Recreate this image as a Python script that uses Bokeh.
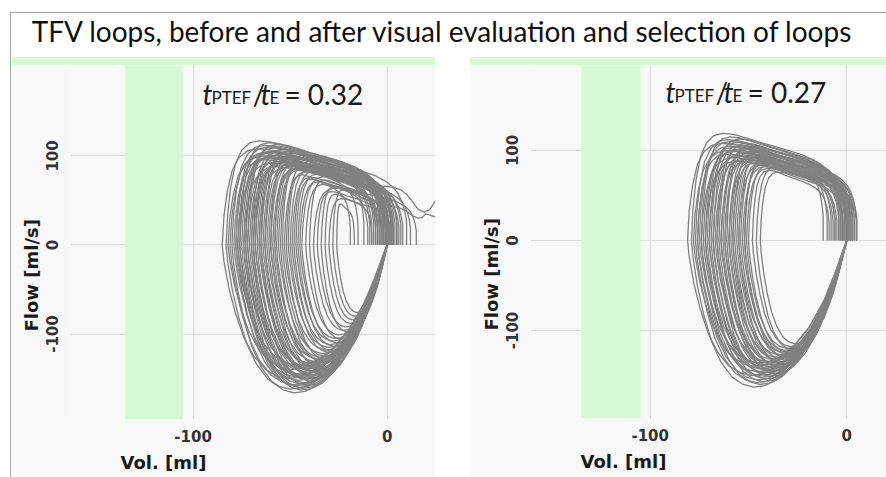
from bokeh.plotting import figure
from bokeh.layouts import column, row
from bokeh.models import Div, Range1d, Label, Title, FixedTicker, BoxAnnotation
from bokeh.embed import file_html
from bokeh.resources import INLINE

TITLE = "TFV loops, before and after visual evaluation and selection of loops"
X_LABEL = "Vol. [ml]"
Y_LABEL = "Flow [ml/s]"
X_TICKS = [-100, 0]
Y_TICKS = [-100, 0, 100]
RATIO_LEFT = "0.32"
RATIO_RIGHT = "0.27"
SELECT_BAND = [-135, -105]   # shaded volume band (ml)

# normalised loop template read from a typical loop
# expiratory limb (positive flow): fraction of way from -VT to end volume, fraction of PEF
TOP_S = [0.00, 0.01, 0.03, 0.06, 0.10, 0.15, 0.21, 0.28, 0.36, 0.45, 0.55, 0.65, 0.74, 0.82, 0.88, 0.92, 0.95, 0.975, 0.99, 1.00, 1.00]
TOP_G = [0.00, 0.30, 0.56, 0.78, 0.91, 0.98, 1.00, 0.99, 0.96, 0.92, 0.88, 0.84, 0.80, 0.75, 0.69, 0.63, 0.56, 0.46, 0.36, 0.25, 0.00]
# inspiratory limb (negative flow): fraction of VT from 0 towards -VT, fraction of PIF
BOT_S = [0.00, 0.03, 0.08, 0.15, 0.25, 0.35, 0.45, 0.53, 0.60, 0.67, 0.74, 0.81, 0.87, 0.92, 0.96, 0.99, 1.00]
BOT_G = [0.00, 0.10, 0.27, 0.48, 0.70, 0.85, 0.95, 0.99, 1.00, 0.98, 0.93, 0.83, 0.69, 0.51, 0.32, 0.12, 0.00]

# before selection: per-loop tidal volume, peak expiratory flow, peak inspiratory flow, end volume
L_VT = [85, 83, 82, 80, 79, 78, 78, 77, 76, 76, 75, 74, 74, 73, 72, 72, 71, 70, 70, 69, 68, 68, 67, 66, 65, 65,
        64, 63, 62, 61, 60, 60, 59, 58, 57, 56, 55, 54, 53, 52, 51, 50, 49, 48, 47, 46, 45, 44, 42, 40, 38, 36,
        34, 32, 30, 28, 26, 81, 77, 73, 69, 66, 63, 58]
L_PEF = [108, 117, 100, 112, 96, 105, 110, 92, 115, 99, 104, 88, 109, 101, 94, 113, 97, 106, 90, 102, 95, 108, 99, 87, 103, 93,
         98, 105, 89, 96, 92, 100, 86, 94, 90, 84, 97, 88, 82, 91, 79, 86, 76, 83, 74, 80, 71, 77, 68, 73, 64, 60,
         66, 57, 52, 62, 46, 104, 98, 111, 93, 100, 91, 85]
L_PIF = [150, 162, 140, 166, 148, 158, 135, 152, 160, 145, 156, 138, 163, 149, 142, 155, 147, 151, 136, 158, 144, 139, 153, 133, 146, 141,
         137, 150, 131, 143, 128, 140, 134, 126, 138, 122, 132, 125, 118, 130, 115, 121, 112, 119, 108, 114, 105, 110, 101, 106, 96, 92,
         98, 88, 84, 80, 76, 157, 146, 161, 150, 142, 136, 129]
L_END = [2, -3, 5, 0, -6, 3, -1, 8, -4, 1, -2, 6, 0, -7, 2, -1, 4, -3, 0, -5, 1, -2, 3, -1, 0, -9,
         2, -4, 0, 5, -1, -12, 1, -3, 0, -6, 2, -15, 0, -2, -19, 1, -4, 0, -10, 3, -1, 12, 0, -5, 15, -2,
         0, -8, 1, -3, -17, 10, -8, 0, 7, -2, 0, -5]
# loops whose expiratory limb runs past zero volume
TAIL_A_V = [-12, -6, -1, 3, 7, 10, 13, 16, 19, 22, 25, 28]
TAIL_A_F = [64, 65, 66, 65, 62, 57, 49, 40, 37, 40, 50, 62]
TAIL_B_V = [-14, -8, -3, 2, 6, 10, 13, 16, 18, 20, 23, 26]
TAIL_B_F = [52, 50, 47, 44, 42, 38, 33, 30, 31, 35, 33, 30]

# after selection
R_VT = [81, 79, 78, 77, 76, 76, 75, 74, 74, 73, 72, 72, 71, 70, 70, 69, 68, 68, 67, 66, 66, 65, 64, 64, 63, 62, 62,
        61, 60, 60, 59, 58, 58, 57, 56, 55, 55, 54, 53, 52, 52, 51, 50, 48, 46, 44]
R_PEF = [108, 119, 100, 112, 96, 105, 110, 92, 115, 99, 104, 88, 109, 101, 94, 113, 97, 106, 90, 102, 95, 108, 99, 87, 103, 93, 98,
         105, 89, 96, 92, 100, 86, 94, 90, 84, 97, 88, 82, 91, 86, 80, 85, 78, 82, 76]
R_PIF = [150, 163, 140, 158, 146, 155, 136, 150, 160, 143, 152, 138, 157, 147, 141, 154, 144, 149, 135, 151, 140, 146, 138, 132, 145, 136, 142,
         148, 130, 139, 133, 141, 127, 135, 131, 124, 137, 128, 122, 130, 126, 120, 125, 118, 122, 115]
R_END = [2, -3, 5, 0, -6, 3, -1, 4, -4, 1, -2, 5, 0, -8, 2, -1, 3, -3, 0, -10, 1, -2, 4, -5, 0, 2, -1,
         -12, 3, 0, -4, 1, -7, 2, -2, 0, 5, -3, 1, -1, -6, 0, 2, -9, 1, -2]

GREEN = "#d5f8d5"
PANEL_BG = "#f8f8f8"
LOOP_COLOR = "#808080"
GRID_COLOR = "#dcdcdc"
BORDER = "#a6a6a6"


def loops(vt, pef, pif, end):
    xs, ys = [], []
    for V, P, I, E in zip(vt, pef, pif, end):
        bx = [-V * s for s in BOT_S]
        by = [-I * g for g in BOT_G]
        tx = [-V + (E + V) * s for s in TOP_S]
        ty = [P * g for g in TOP_G]
        xs.append(bx + tx[1:])
        ys.append(by + ty[1:])
    return xs, ys


def panel(width, border_left, border_bottom, xr, yr, vt, pef, pif, end, ratio, label_dx, tails):
    p = figure(width=width, height=412, output_backend="svg", toolbar_location=None,
               x_range=Range1d(*xr), y_range=Range1d(*yr),
               min_border_left=border_left, min_border_right=0, min_border_top=0,
               min_border_bottom=border_bottom, margin=0,
               background_fill_color=PANEL_BG, border_fill_color=PANEL_BG, outline_line_color=None)
    p.add_layout(BoxAnnotation(left=SELECT_BAND[0], right=SELECT_BAND[1], fill_color=GREEN, fill_alpha=1,
                               line_color=None, level="underlay"))
    p.xgrid.ticker = FixedTicker(ticks=X_TICKS)
    p.ygrid.ticker = FixedTicker(ticks=Y_TICKS)
    p.grid.grid_line_color = GRID_COLOR
    p.xaxis.ticker = FixedTicker(ticks=X_TICKS)
    p.yaxis.ticker = FixedTicker(ticks=Y_TICKS)
    p.xaxis.major_label_overrides = {t: str(t) for t in X_TICKS}
    p.yaxis.major_label_overrides = {t: str(t) for t in Y_TICKS}
    for ax in (p.xaxis, p.yaxis):
        ax.axis_line_color = None
        ax.major_tick_line_color = None
        ax.minor_tick_line_color = None
        ax.major_tick_out = 0
        ax.major_tick_in = 0
        ax.minor_tick_out = 0
        ax.major_label_text_font = "DejaVu Sans"
        ax.major_label_text_font_style = "bold"
        ax.major_label_text_font_size = "15px"
        ax.major_label_text_color = "#333333"
    p.yaxis.major_label_orientation = "vertical"
    p.yaxis.major_label_standoff = 12
    p.xaxis.major_label_standoff = 10

    xs, ys = loops(vt, pef, pif, end)
    for tv, tf in tails:
        xs.append(tv)
        ys.append(tf)
    p.multi_line(xs, ys, line_color=LOOP_COLOR, line_width=1.3)

    p.add_layout(Title(text=X_LABEL, align="left", offset=50, text_font="DejaVu Sans", text_font_style="bold",
                       text_font_size="18px", text_color="#1a1a1a", standoff=10), "below")
    p.add_layout(Title(text=Y_LABEL, align="left", offset=88, text_font="DejaVu Sans", text_font_style="bold",
                       text_font_size="18px", text_color="#1a1a1a", standoff=4), "left")

    ax0 = label_dx
    y0 = 170 if yr[1] > 198 else 165
    pieces = [("t", 0, 0, "28px", "italic"), ("PTEF", 9, -4, "17px", "normal"), ("/", 50, 0, "28px", "normal"),
              ("t", 58, 0, "28px", "italic"), ("E", 67, -4, "17px", "normal"), ("= " + ratio, 82, 0, "28px", "normal")]
    for txt, dx, dy, fs, st in pieces:
        p.add_layout(Label(x=ax0, y=y0, x_offset=dx, y_offset=dy, text=txt, text_font="Lato",
                           text_font_size=fs, text_font_style=st, text_color="#1a1a1a",
                           text_baseline="alphabetic", text_align="left"))
    return p


left = panel(423, 58, 57, (-163.2, 24.9), (-196, 201.6), L_VT, L_PEF, L_PIF, L_END, RATIO_LEFT, -95.2,
             [(TAIL_A_V, TAIL_A_F), (TAIL_B_V, TAIL_B_F)])
right = panel(416, 60, 59, (-160.9, 20.2), (-197.8, 194.4), R_VT, R_PEF, R_PIF, R_END, RATIO_RIGHT, -92.2, [])

header = Div(width=886, height=57, margin=0,
             text=('<div style="position:absolute;left:10px;top:12px;width:876px;height:45px;'
                   'box-sizing:border-box;border-top:1px solid %s;border-left:1px solid %s;'
                   'text-align:center;font-family:Lato;font-size:28px;line-height:1;padding-top:4px;'
                   'padding-right:14px;color:#111;white-space:nowrap">%s</div>') % (BORDER, BORDER, TITLE))
strip = Div(width=12, height=420, margin=0,
            text='<div style="position:absolute;left:10px;top:0;width:1px;height:420px;background:%s"></div>' % BORDER)
band_l = Div(width=423, height=8, margin=0, styles={"background-color": GREEN})
band_r = Div(width=416, height=8, margin=0, styles={"background-color": GREEN})
gap = Div(width=35, height=420, margin=0)

root = column(header, row(strip, column(band_l, left, spacing=0, margin=0), gap,
                          column(band_r, right, spacing=0, margin=0), spacing=0, margin=0),
              spacing=0, margin=0)

open("out.html", "w").write(file_html(root, INLINE))
